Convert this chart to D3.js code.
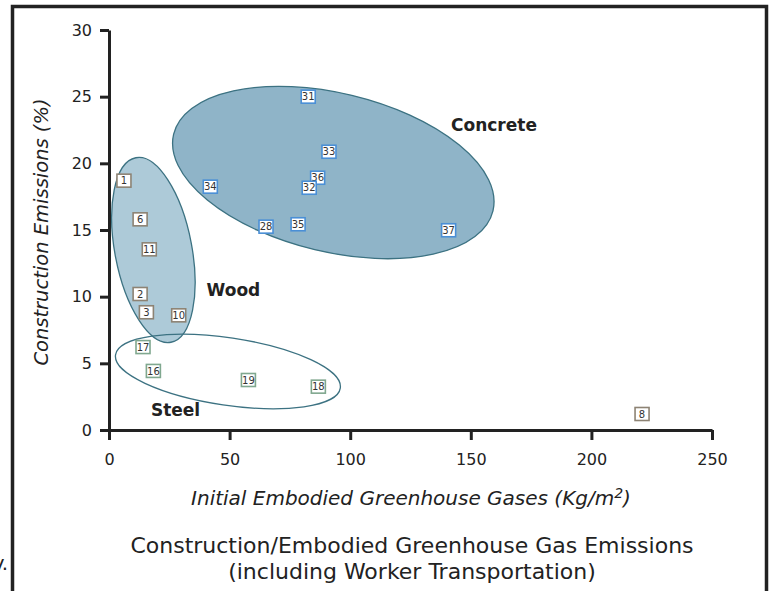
<!DOCTYPE html>
<html>
<head>
<meta charset="utf-8">
<script src="https://cdn.jsdelivr.net/npm/d3@7"></script>
<style>
  html, body { margin: 0; padding: 0; background: #fff; }
  svg { display: block; font-family: "DejaVu Sans", Verdana, sans-serif; }
</style>
</head>
<body>
<svg id="chart" width="771" height="591"></svg>
<script>
// Building IDs, material group and the two emission measures
const ids       = ["1", "6", "11", "2", "3", "10", "17", "16", "19", "18", "8", "31", "33", "36", "32", "34", "28", "35", "37"];
const materials = ["Wood", "Wood", "Wood", "Wood", "Wood", "Wood", "Steel", "Steel", "Steel", "Steel", "Wood",
                   "Concrete", "Concrete", "Concrete", "Concrete", "Concrete", "Concrete", "Concrete", "Concrete"];
const embodied  = [6.2, 12.9, 16.7, 12.9, 15.5, 28.9, 14.1, 18.4, 57.8, 86.8, 221, 82.6, 91.2, 86.5, 83.0, 42.0, 65.1, 78.4, 140.8];
const construction = [18.7, 15.8, 13.55, 10.2, 8.83, 8.6, 6.22, 4.43, 3.75, 3.25, 1.2, 25.0, 20.87, 18.92, 18.17, 18.25, 15.25, 15.43, 14.98];

// Material clusters: name and cluster centre in data units
const clusterNames = ["Concrete", "Wood", "Steel"];
const clusterCx    = [93.0, 18.4, 49.3];
const clusterCy    = [19.31, 13.5, 4.39];
// Cluster label anchor points (text centre, baseline) in data units
const labelX = [159.6, 51.6, 27.6];
const labelY = [22.4, 10.05, 1.05];

const xTicks = [0, 50, 100, 150, 200, 250];
const yTicks = [0, 5, 10, 15, 20, 25, 30];

// Ellipse shapes (pixels / degrees) and colours per cluster
const ellipseShape = {
  Concrete: { rx: 164.2, ry: 79.4, rot: 13.5, fill: "#8fb4c8" },
  Wood:     { rx: 38.5,  ry: 93.9, rot: -10.8, fill: "#adcad8" },
  Steel:    { rx: 113.6, ry: 33.7, rot: 8.4,  fill: "none" }
};
const boxStroke = { Concrete: "#4a8fd6", Wood: "#8d8374", Steel: "#80a88f" };

const svg = d3.select("#chart");

const x = d3.scaleLinear().domain([0, 250]).range([109, 712]);
const y = d3.scaleLinear().domain([0, 30]).range([430, 30]);

// Outer frame
svg.append("rect")
  .attr("x", 12.5).attr("y", 6.5)
  .attr("width", 754).attr("height", 600)
  .attr("fill", "none").attr("stroke", "#222").attr("stroke-width", 3.5);

// Caption fragment running in from the left edge
svg.append("text")
  .attr("x", 8).attr("y", 570)
  .attr("text-anchor", "end")
  .attr("font-size", 20).attr("fill", "#222")
  .text("y.");

// Cluster ellipses (Concrete, Wood, then Steel outline on top)
const ellG = svg.append("g");
clusterNames.forEach((name, i) => {
  const s = ellipseShape[name];
  ellG.append("ellipse")
    .attr("transform", `translate(${x(clusterCx[i])},${y(clusterCy[i])}) rotate(${s.rot})`)
    .attr("rx", s.rx).attr("ry", s.ry)
    .attr("fill", s.fill)
    .attr("stroke", "#3c7282").attr("stroke-width", 1.3);
});

// Axes
const axisColor = "#222";
const yAxis = svg.append("g")
  .attr("transform", `translate(${x(0)},0)`)
  .call(d3.axisLeft(y).tickValues(yTicks).tickSize(9).tickPadding(8).tickSizeOuter(0));
const xAxis = svg.append("g")
  .attr("transform", `translate(0,${y(0)})`)
  .call(d3.axisBottom(x).tickValues(xTicks).tickSize(10).tickPadding(14).tickSizeOuter(0));

[xAxis, yAxis].forEach(g => {
  g.select(".domain").attr("stroke", axisColor).attr("stroke-width", 3);
  g.selectAll(".tick line").attr("stroke", axisColor).attr("stroke-width", 3);
  g.selectAll(".tick text")
    .attr("fill", "#222")
    .attr("font-size", 16)
    .attr("font-family", "DejaVu Sans, Verdana, sans-serif");
});

// Cluster labels
clusterNames.forEach((name, i) => {
  svg.append("text")
    .attr("x", x(labelX[i])).attr("y", y(labelY[i]))
    .attr("text-anchor", "middle")
    .attr("font-size", 17).attr("font-weight", "bold").attr("fill", "#222")
    .text(name);
});

// Numbered building markers
const data = ids.map((id, i) => ({ id, mat: materials[i], xv: embodied[i], yv: construction[i] }));
const marks = svg.append("g").selectAll("g").data(data).join("g")
  .attr("transform", d => `translate(${x(d.xv)},${y(d.yv)})`);
marks.append("rect")
  .attr("x", -7).attr("y", -6.5)
  .attr("width", 14).attr("height", 13)
  .attr("fill", "#fff")
  .attr("stroke", d => boxStroke[d.mat]).attr("stroke-width", 1.6);
marks.append("text")
  .attr("text-anchor", "middle").attr("dy", "0.36em")
  .attr("font-size", 10).attr("fill", "#333")
  .text(d => d.id);

// Axis titles
svg.append("text")
  .attr("transform", `translate(48,232) rotate(-90)`)
  .attr("text-anchor", "middle")
  .attr("font-size", 19.5).attr("font-style", "italic").attr("fill", "#222")
  .text("Construction Emissions (%)");

const xt = svg.append("text")
  .attr("x", 411).attr("y", 505)
  .attr("text-anchor", "middle")
  .attr("font-size", 20).attr("font-style", "italic").attr("fill", "#222");
xt.append("tspan").text("Initial Embodied Greenhouse Gases (Kg/m");
xt.append("tspan").attr("font-size", 14).attr("dy", -7).text("2");
xt.append("tspan").attr("dy", 7).text(")");

// Chart caption
const cap = svg.append("text")
  .attr("text-anchor", "middle").attr("font-size", 22).attr("fill", "#222");
cap.append("tspan").attr("x", 412).attr("y", 553).text("Construction/Embodied Greenhouse Gas Emissions");
cap.append("tspan").attr("x", 412).attr("y", 579).text("(including Worker Transportation)");
</script>
</body>
</html>
